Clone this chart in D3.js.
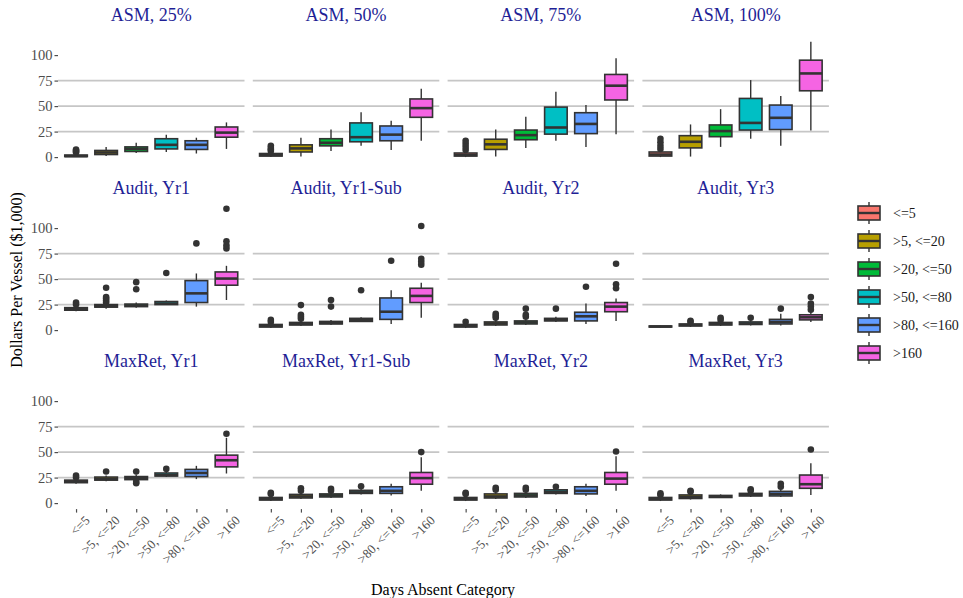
<!DOCTYPE html>
<html lang="en">
<head>
<meta charset="UTF-8">
<title>Dollars per vessel by days absent</title>
<script src="https://cdnjs.cloudflare.com/ajax/libs/d3/7.8.5/d3.min.js"></script>
<style>
  body { margin: 0; background: #fff; }
  text { font-family: "Liberation Serif", "DejaVu Serif", serif; }
</style>
</head>
<body>
<script>
// panels, in facet order (4 per row)
var panelTitles = ["ASM, 25%", "ASM, 50%", "ASM, 75%", "ASM, 100%",
                   "Audit, Yr1", "Audit, Yr1-Sub", "Audit, Yr2", "Audit, Yr3",
                   "MaxRet, Yr1", "MaxRet, Yr1-Sub", "MaxRet, Yr2", "MaxRet, Yr3"];
var categories = ["<=5", ">5, <=20", ">20, <=50", ">50, <=80", ">80, <=160", ">160"];
var boxColors = ["#F8766D", "#B79F00", "#00BA38", "#00BFC4", "#619CFF", "#F564E3"];
var yTicks = [0, 25, 50, 75, 100];
var gridValues = [25, 50, 75];

// box stats, one row per panel, one value per category
var whiskerLow = [
  [0, 1, 4, 5, 3.5, 8],
  [0, 0.5, 6, 11, 7, 16],
  [0, 0.5, 9, 16, 10, 22.5],
  [0, 0.5, 10, 18, 11, 26],
  [18.5, 21, 22, 24.5, 23, 29.5],
  [2, 4, 5, 8, 6, 12],
  [2, 4, 5, 8, 6, 9],
  [2.5, 3, 4, 4.5, 4.5, 8],
  [19, 21.5, 22, 25.5, 23.5, 29],
  [2, 4, 5, 8.5, 7.5, 12],
  [2, 4, 5, 8.5, 7, 12],
  [2, 3.5, 5, 6, 6, 8]
];
var q1s = [
  [0.5, 2.5, 5.5, 8, 7.5, 19.5],
  [1, 5, 11, 15, 16, 39],
  [1, 7.5, 17, 22.5, 23, 56],
  [1, 9, 20, 26.5, 27, 65],
  [19.5, 22.5, 23, 25, 27, 44],
  [3, 5, 6, 8.5, 10.5, 27],
  [3, 5, 6, 9, 9, 18],
  [3, 4, 5, 5.5, 6, 10],
  [20, 22.5, 23, 26.5, 26, 35.5],
  [3, 5, 6, 9.5, 9.5, 18.5],
  [3, 5, 6, 9.5, 9, 18.5],
  [3, 4.5, 5.5, 7, 7, 14.5]
];
var medians = [
  [1, 4.5, 8, 12, 12, 24],
  [2, 8.5, 14, 19.5, 22, 48],
  [2, 12.5, 21.5, 29, 32.5, 70],
  [2.5, 15, 25.5, 33.5, 38.5, 82],
  [20.5, 23.5, 24, 26, 36, 50.5],
  [4, 6, 7, 10, 18, 33.5],
  [4, 6.5, 7.5, 10, 13.5, 23],
  [3.5, 5, 6, 6.5, 8, 12.5],
  [21, 23.5, 24.5, 27.5, 29.5, 42],
  [4, 6.5, 7.5, 10.5, 12, 24.5],
  [4, 6.5, 7.5, 11, 12, 24],
  [4, 6, 6.5, 8, 9, 18.5]
];
var q3s = [
  [2, 6.5, 10, 18, 16, 29.5],
  [3.5, 12, 18, 33.5, 30.5, 57],
  [4, 17.5, 26.5, 49, 43.5, 81],
  [5, 21, 31.5, 57.5, 51, 95],
  [22, 25, 25.5, 28, 48.5, 57],
  [5.5, 7.5, 8.5, 11.5, 31.5, 41],
  [5.5, 8, 9, 11.5, 17.5, 27],
  [4, 6, 7.5, 8, 10.5, 15],
  [22.5, 25.5, 26, 29.5, 33, 47],
  [5.5, 8.5, 9, 12.5, 16, 30],
  [5.5, 9, 9.5, 13, 16, 30],
  [5.5, 8, 7.5, 9.5, 11.5, 27.5]
];
var whiskerHigh = [
  [3.5, 10, 14, 22, 19, 34],
  [5, 19, 27, 44, 35.5, 67],
  [6, 27, 39.5, 64, 51, 97],
  [6.5, 32, 47, 75.5, 60, 113],
  [24, 26, 27, 29, 55.5, 63],
  [6.5, 9, 10, 12.5, 39, 46.5],
  [6.5, 10, 10.5, 13, 26, 31],
  [4.5, 7, 8.5, 9, 16, 18],
  [23.5, 27, 28, 31, 36.5, 64],
  [7, 10, 10.5, 14, 19, 45],
  [7, 10.5, 11, 14, 19, 46],
  [6.5, 9.5, 8.5, 10.5, 13.5, 39]
];
var outliers = [
  [[4.5, 5.5, 6.5, 7.5], [], [], [], [], []],
  [[6, 7.5, 9, 11], [], [], [], [], []],
  [[7, 10, 13, 16], [], [], [], [], []],
  [[8, 11, 14.5, 18], [], [], [], [], []],
  [[25, 27], [27, 29, 31, 32.5, 41.5], [40, 47], [56], [85], [80, 83, 87, 119]],
  [[8, 10], [11, 13, 15, 24.5], [23, 29.5], [39], [68], [64, 67, 70, 102]],
  [[8], [12, 14, 16], [13, 15, 21], [21], [42.5], [41, 45, 65]],
  [[], [8, 9], [10, 12], [12], [21], [20, 23, 26, 32.5]],
  [[25, 27], [31], [19.5, 21, 31], [33.5], [], [68]],
  [[9, 10], [12, 14.5], [12, 14], [16.5], [], [50]],
  [[9, 10], [13, 15], [13, 15], [16], [], [50.5]],
  [[8, 9.5], [11, 12], [], [12, 13.5], [16, 19], [52.5]]
];

var width = 963, height = 598;
var nCols = 4;
var panelLeft = 58, panelW = 186.5, panelGap = 8.3;
var rowTop = 30.5, rowPitch = 173, panelH = 132.6;
var boxStroke = "#333333";

var svg = d3.select("body").append("svg")
    .attr("width", width)
    .attr("height", height);

var x = d3.scalePoint().domain(categories).range([0, panelW]).padding(0.6);
var y = d3.scaleLinear().domain([-5.9, 124.1]).range([panelH, 0]);
var boxW = x.step() * 0.75;
var color = d3.scaleOrdinal().domain(categories).range(boxColors);

panelTitles.forEach(function(title, p) {
    var col = p % nCols, row = Math.floor(p / nCols);
    var g = svg.append("g")
        .attr("transform", "translate(" + (panelLeft + col * (panelW + panelGap)) + "," + (rowTop + row * rowPitch) + ")");

    // strip title
    g.append("text")
        .attr("x", panelW / 2)
        .attr("y", -10)
        .attr("text-anchor", "middle")
        .attr("font-size", "18px")
        .attr("fill", "#1f1f96")
        .text(title);

    g.selectAll(".grid").data(gridValues).enter()
        .append("line")
        .attr("x1", 0).attr("x2", panelW)
        .attr("y1", function(d) { return y(d); })
        .attr("y2", function(d) { return y(d); })
        .attr("stroke", "#c6c6c6")
        .attr("stroke-width", 1.6);

    if (col == 0) {
        var ya = g.append("g")
            .call(d3.axisLeft(y).tickValues(yTicks).tickSize(3.5).tickPadding(2));
        ya.select(".domain").remove();
        ya.selectAll("line").attr("stroke", "#4d4d4d").attr("stroke-width", 1.2);
        ya.selectAll("text")
            .attr("font-family", "Liberation Serif, serif")
            .attr("font-size", "14.5px")
            .attr("fill", "#4d4d4d");
    }

    if (row == 2) {
        var xa = g.append("g")
            .attr("transform", "translate(0," + panelH + ")")
            .call(d3.axisBottom(x).tickSize(3.5).tickPadding(2));
        xa.select(".domain").remove();
        xa.selectAll("line").attr("stroke", "#4d4d4d").attr("stroke-width", 1.2);
        xa.selectAll("text")
            .attr("font-family", "Liberation Serif, serif")
            .attr("font-size", "13px")
            .attr("fill", "#4d4d4d")
            .attr("text-anchor", "end")
            .attr("dy", "0")
            .attr("y", 0)
            .attr("transform", "translate(14,12) rotate(-45)");
    }

    var boxes = categories.map(function(c, i) {
        return {cat: c, lo: whiskerLow[p][i], q1: q1s[p][i], med: medians[p][i],
                q3: q3s[p][i], hi: whiskerHigh[p][i], out: outliers[p][i]};
    });

    var bg = g.selectAll(".box").data(boxes).enter().append("g")
        .attr("transform", function(d) { return "translate(" + x(d.cat) + ",0)"; });

    bg.append("line")
        .attr("y1", function(d) { return y(d.hi); })
        .attr("y2", function(d) { return y(d.lo); })
        .attr("stroke", boxStroke)
        .attr("stroke-width", 1.4);

    bg.append("rect")
        .attr("x", -boxW / 2)
        .attr("width", boxW)
        .attr("y", function(d) { return y(d.q3); })
        .attr("height", function(d) { return y(d.q1) - y(d.q3); })
        .attr("fill", function(d) { return color(d.cat); })
        .attr("stroke", boxStroke)
        .attr("stroke-width", 1.6);

    bg.append("line")
        .attr("x1", -boxW / 2).attr("x2", boxW / 2)
        .attr("y1", function(d) { return y(d.med); })
        .attr("y2", function(d) { return y(d.med); })
        .attr("stroke", boxStroke)
        .attr("stroke-width", 2.6);

    bg.selectAll("circle")
        .data(function(d) { return d.out; })
        .enter().append("circle")
        .attr("r", 3.3)
        .attr("cy", function(d) { return y(d); })
        .attr("fill", boxStroke);
});

// axis titles
svg.append("text")
    .attr("transform", "translate(22,280) rotate(-90)")
    .attr("text-anchor", "middle")
    .attr("font-size", "16px")
    .attr("fill", "#000")
    .text("Dollars Per Vessel ($1,000)");

svg.append("text")
    .attr("x", 443)
    .attr("y", 595)
    .attr("text-anchor", "middle")
    .attr("font-size", "16px")
    .attr("fill", "#000")
    .text("Days Absent Category");

// legend
var legend = svg.append("g").attr("transform", "translate(858,213)");
var key = legend.selectAll(".key").data(categories).enter().append("g")
    .attr("transform", function(d, i) { return "translate(0," + (i * 28) + ")"; });

key.append("line")
    .attr("x1", 11).attr("x2", 11)
    .attr("y1", -11).attr("y2", 11)
    .attr("stroke", boxStroke)
    .attr("stroke-width", 1.4);
key.append("rect")
    .attr("x", 0).attr("y", -7)
    .attr("width", 22).attr("height", 14)
    .attr("fill", function(d) { return color(d); })
    .attr("stroke", boxStroke)
    .attr("stroke-width", 1.6);
key.append("line")
    .attr("x1", 0).attr("x2", 22)
    .attr("y1", 0).attr("y2", 0)
    .attr("stroke", boxStroke)
    .attr("stroke-width", 2.4);
key.append("text")
    .attr("x", 35)
    .attr("y", 0)
    .attr("dy", "0.35em")
    .attr("font-size", "14px")
    .attr("fill", "#1a1a1a")
    .text(function(d) { return d; });
</script>
</body>
</html>
